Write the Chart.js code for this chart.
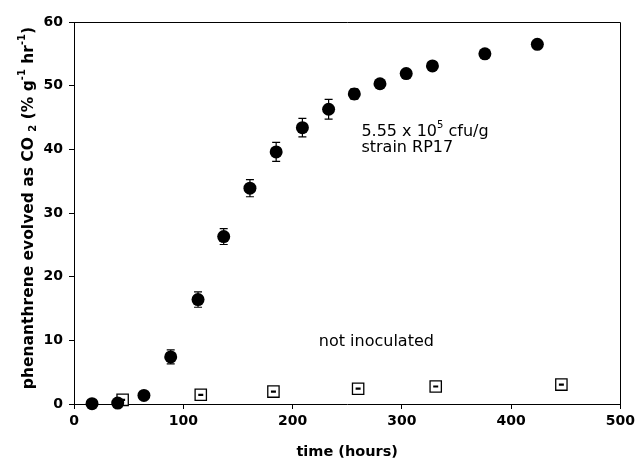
<!DOCTYPE html>
<html>
<head>
<meta charset="utf-8">
<script src="https://cdn.jsdelivr.net/npm/chart.js@4.4.1/dist/chart.umd.min.js"></script>
<style>
  html, body { margin: 0; padding: 0; background: #fff; }
  #wrap { width: 639px; height: 465px; }
</style>
</head>
<body>
<div id="wrap"><canvas id="chart" width="639" height="465"></canvas></div>
<script>
// inoculated soil (5.55 x 10^5 cfu/g, strain RP17)
const inocTime = [16.5, 40, 64, 88.5, 113.5, 137, 161, 185, 209, 233, 256.5, 280, 304, 328, 376, 424];
const inocCO2 = [0.05, 0.15, 1.35, 7.4, 16.4, 26.3, 33.9, 39.6, 43.4, 46.3, 48.7, 50.3, 51.9, 53.1, 55.0, 56.5];
const inocErr = [0, 0, 0.3, 1.1, 1.2, 1.25, 1.35, 1.5, 1.45, 1.55, 0.8, 0.6, 0.5, 0.5, 0.5, 0.5];

// not inoculated control
const ctrlTime = [44.5, 116, 182.5, 260, 331, 446];
const ctrlCO2 = [0.65, 1.45, 1.95, 2.4, 2.75, 3.05];
const ctrlErr = [0.08, 0.08, 0.08, 0.08, 0.08, 0.08];

const xTicks = [0, 100, 200, 300, 400, 500];
const yTicks = [0, 10, 20, 30, 40, 50, 60];

const FONT = "'DejaVu Sans', sans-serif";

const toPts = (xs, ys) => xs.map((x, i) => ({ x, y: ys[i] }));

// draw a run of text pieces, some raised or lowered
function richText(ctx, parts, x, y, size, weight) {
  const small = Math.round(size * 0.65);
  const widths = parts.map(p => {
    ctx.font = `${weight} ${p.s ? small : size}px ${FONT}`;
    return ctx.measureText(p.t).width;
  });
  let cx = x;
  parts.forEach((p, i) => {
    ctx.font = `${weight} ${p.s ? small : size}px ${FONT}`;
    let dy = 0;
    if (p.s === "sup") dy = -size * 0.4;
    if (p.s === "sub") dy = size * 0.3;
    ctx.fillText(p.t, cx, y + dy);
    cx += widths[i];
  });
  return widths.reduce((a, b) => a + b, 0);
}

function richWidth(ctx, parts, size, weight) {
  const small = Math.round(size * 0.65);
  return parts.reduce((w, p) => {
    ctx.font = `${weight} ${p.s ? small : size}px ${FONT}`;
    return w + ctx.measureText(p.t).width;
  }, 0);
}

const yTitle = [
  { t: "phenanthrene evolved as CO" },
  { t: " " },
  { t: "2", s: "sub" },
  { t: " (% g" },
  { t: "-1", s: "sup" },
  { t: " hr" },
  { t: "-1", s: "sup" },
  { t: ")" }
];

const boxPlugin = {
  id: "box",
  afterDraw(chart) {
    const { ctx, chartArea: a } = chart;
    ctx.save();
    ctx.strokeStyle = "#000";
    ctx.lineWidth = 1;
    ctx.beginPath();
    ctx.moveTo(a.left, Math.round(a.top) + 0.5);
    ctx.lineTo(Math.round(a.right) + 0.5, Math.round(a.top) + 0.5);
    ctx.lineTo(Math.round(a.right) + 0.5, a.bottom);
    ctx.stroke();
    ctx.restore();
  }
};

const errorBars = {
  id: "errorBars",
  afterDatasetsDraw(chart) {
    const { ctx, scales: { x, y } } = chart;
    ctx.save();
    ctx.strokeStyle = "#000";
    ctx.lineWidth = 1.2;
    chart.data.datasets.forEach(ds => {
      if (!ds.errors) return;
      const cw = ds.capWidth / 2;
      ds.data.forEach((p, i) => {
        const e = ds.errors[i];
        if (!e) return;
        const px = x.getPixelForValue(p.x);
        const top = y.getPixelForValue(p.y + e);
        const bot = y.getPixelForValue(p.y - e);
        ctx.beginPath();
        ctx.moveTo(px, top); ctx.lineTo(px, bot);
        ctx.moveTo(px - cw, top); ctx.lineTo(px + cw, top);
        ctx.moveTo(px - cw, bot); ctx.lineTo(px + cw, bot);
        ctx.stroke();
      });
    });
    ctx.restore();
  }
};

const labels = {
  id: "labels",
  afterDraw(chart) {
    const { ctx, scales: { x, y } } = chart;
    ctx.save();
    ctx.fillStyle = "#000";
    ctx.textBaseline = "middle";
    ctx.textAlign = "left";

    // annotations
    richText(ctx, [{ t: "5.55 x 10" }, { t: "5", s: "sup" }, { t: " cfu/g" }],
      x.getPixelForValue(263), y.getPixelForValue(42.8), 16, "normal");
    richText(ctx, [{ t: "strain RP17" }],
      x.getPixelForValue(263), y.getPixelForValue(40.2), 16, "normal");
    richText(ctx, [{ t: "not inoculated" }],
      x.getPixelForValue(224), y.getPixelForValue(9.75), 16, "normal");

    // y axis title, rotated
    const size = 15.5;
    const w = richWidth(ctx, yTitle, size, "bold");
    ctx.translate(29, 208);
    ctx.rotate(-Math.PI / 2);
    richText(ctx, yTitle, -w / 2, 0, size, "bold");
    ctx.restore();
  }
};

new Chart(document.getElementById("chart"), {
  type: "scatter",
  data: {
    datasets: [
      {
        label: "5.55 x 10^5 cfu/g strain RP17",
        data: toPts(inocTime, inocCO2),
        errors: inocErr,
        capWidth: 8,
        pointStyle: "circle",
        pointRadius: 6.5,
        backgroundColor: "#000",
        borderColor: "#000",
        borderWidth: 0,
        clip: false
      },
      {
        label: "not inoculated",
        data: toPts(ctrlTime, ctrlCO2),
        errors: ctrlErr,
        capWidth: 5,
        pointStyle: "rect",
        pointRadius: 8,
        backgroundColor: "#fff",
        borderColor: "#000",
        borderWidth: 1.3,
        clip: false
      }
    ]
  },
  options: {
    responsive: false,
    animation: false,
    layout: { padding: { left: 0, top: 22, right: 16, bottom: 0 } },
    plugins: { legend: { display: false }, tooltip: { enabled: false } },
    scales: {
      x: {
        type: "linear",
        min: xTicks[0],
        max: xTicks[xTicks.length - 1],
        afterBuildTicks(s) { s.ticks = xTicks.map(v => ({ value: v })); },
        afterFit(s) { s.height = 61; },
        ticks: { color: "#000", padding: 4, maxRotation: 0, font: { family: FONT, size: 14, weight: "bold" } },
        grid: { drawOnChartArea: false, tickLength: 5, color: "#000" },
        border: { color: "#000", width: 1 },
        title: { display: true, text: "time (hours)", color: "#000", padding: { top: 4, bottom: 4 }, font: { family: FONT, size: 14.5, weight: "bold" } }
      },
      y: {
        type: "linear",
        min: yTicks[0],
        max: yTicks[yTicks.length - 1],
        afterBuildTicks(s) { s.ticks = yTicks.map(v => ({ value: v })); },
        afterFit(s) { s.width = 74; },
        ticks: { color: "#000", padding: 6, font: { family: FONT, size: 14, weight: "bold" } },
        grid: { drawOnChartArea: false, tickLength: 5, color: "#000" },
        border: { color: "#000", width: 1 }
      }
    }
  },
  plugins: [boxPlugin, errorBars, labels]
});
</script>
</body>
</html>
